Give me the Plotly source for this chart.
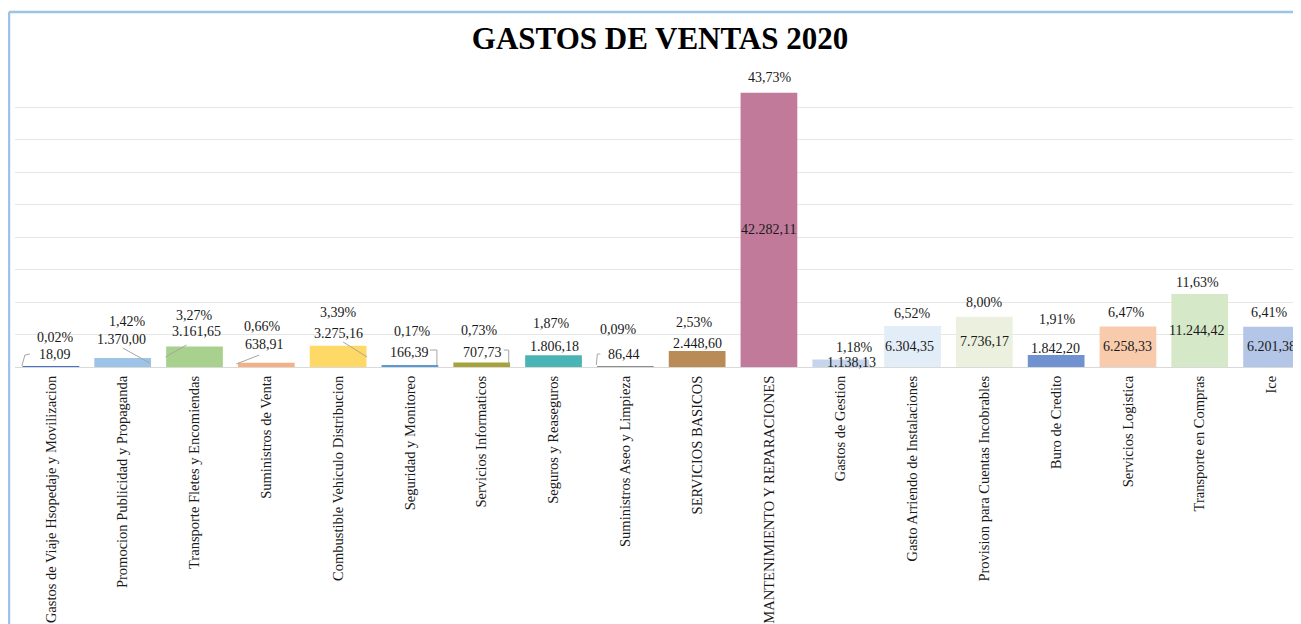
import plotly.graph_objects as go

# ---------------- data ----------------
categories = [
    "Gastos de Viaje Hsopedaje y Movilizacion",
    "Promocion Publicidad y Propaganda",
    "Transporte Fletes y Encomiendas",
    "Suministros de Venta",
    "Combustible Vehiculo Distribucion",
    "Seguridad y Monitoreo",
    "Servicios Informaticos",
    "Seguros y Reaseguros",
    "Suministros Aseo y Limpieza",
    "SERVICIOS BASICOS",
    "MANTENIMIENTO Y REPARACIONES",
    "Gastos de Gestion",
    "Gasto Arriendo de Instalaciones",
    "Provision para Cuentas Incobrables",
    "Buro de Credito",
    "Servicios Logistica",
    "Transporte en Compras",
    "Ice",
]
values = [18.09, 1370.00, 3161.65, 638.91, 3275.16, 166.39, 707.73, 1806.18, 86.44,
          2448.60, 42282.11, 1138.13, 6304.35, 7736.17, 1842.20, 6258.33, 11244.42, 6201.38]
percent_labels = ["0,02%", "1,42%", "3,27%", "0,66%", "3,39%", "0,17%", "0,73%", "1,87%", "0,09%",
                  "2,53%", "43,73%", "1,18%", "6,52%", "8,00%", "1,91%", "6,47%", "11,63%", "6,41%"]
title_text = "GASTOS DE VENTAS 2020"

# ---------------- style ----------------
colors = ["#4472C4", "#9DC3E6", "#A9D18E", "#F4B183", "#FFD966", "#5B9BD5", "#A5A33A", "#4BB4B4",
          "#8C8C8C", "#B98B57", "#C27A9A", "#C5D5EE", "#E3EDF8", "#EBF1DE", "#7092D0", "#F8CBAD",
          "#D5E8C8", "#B4C6E7"]
inside = [False] * 10 + [True, False, True, True, False, True, True, True]
val_dy = [12, 19, 14.5, 18, 12, 13, 9.5, 9, 12, 8, 0, -3, 0, 0, 7, 0, 0, 0]
val_dx = [4, -1, 2, -2, 0, 0, 1, 1, -1, 0, 0, 11, -3, 0, -1, 0, -3, 0]
pct_dy = [29, 37, 30.5, 36, 33, 34, 32, 32, 37, 29, 15.6, 12.6, 13, 14, 36, 13.4, 12, 13.8]
pct_dx = [5, 5, 0, -4, 0, 3, -2, -2, -7, -3, 1, 14, 0, 0, 1, -1, -2, -2]
leaders = {
    0: [(-29, 1), (-26, 12), (-21, 13)],
    1: [(0, 19), (27, 4)],
    2: [(-29, 10), (-8, 22)],
    3: [(-30, 3), (-7, 12)],
    4: [(5, 25), (29, 10)],
    5: [(20, 17), (27, 17), (27, 2)],
    6: [(22, 17), (27, 17), (27, 2)],
    8: [(-29, 2), (-28, 13), (-25, 13)],
}

# the page adds an 8px body margin, so the figure is laid out 8px smaller
W, H = 1293, 616
ML, MR, MT, MB = 7, 0, 67, 257
PLOT_W = W - ML - MR
PLOT_H = H - MT - MB
FONT = "Liberation Serif"
TXT = "#1a1a1a"


def fmt_es(v):
    s = f"{v:,.2f}"
    return s.replace(",", "X").replace(".", ",").replace("X", ".")


def px_to_paper(px, py):
    return (px - ML) / PLOT_W, (H - MB - py) / PLOT_H


fig = go.Figure(go.Bar(
    x=list(range(len(categories))),
    y=values,
    marker=dict(color=colors, line=dict(width=0)),
    width=0.79,
    hoverinfo="skip",
))

annotations = []
for i, (v, p) in enumerate(zip(values, percent_labels)):
    if inside[i]:
        annotations.append(dict(x=i, y=v / 2, text=fmt_es(v), showarrow=False,
                                xshift=val_dx[i], yanchor="middle",
                                font=dict(family=FONT, size=14, color=TXT)))
    else:
        annotations.append(dict(x=i, y=v, text=fmt_es(v), showarrow=False,
                                xshift=val_dx[i], yshift=val_dy[i], yanchor="middle",
                                font=dict(family=FONT, size=14, color=TXT)))
    annotations.append(dict(x=i, y=v, text=p, showarrow=False,
                            xshift=pct_dx[i], yshift=pct_dy[i], yanchor="middle",
                            font=dict(family=FONT, size=14, color=TXT)))

shapes = []
for i, pts in leaders.items():
    for (x0, y0), (x1, y1) in zip(pts[:-1], pts[1:]):
        shapes.append(dict(type="line", xref="x", yref="y",
                           xsizemode="pixel", ysizemode="pixel",
                           xanchor=i, yanchor=0,
                           x0=x0, y0=y0, x1=x1, y1=y1,
                           line=dict(color="#A6A6A6", width=1)))

# outer frame (top and left edge visible)
fx0, fy0 = px_to_paper(1, 4)
fx1, _ = px_to_paper(W + 5, 4)
_, fyb = px_to_paper(1, H + 5)
shapes.append(dict(type="line", xref="paper", yref="paper", x0=fx0, y0=fy0, x1=fx1, y1=fy0,
                   line=dict(color="#9DC3E6", width=2.5), layer="above"))
shapes.append(dict(type="line", xref="paper", yref="paper", x0=fx0, y0=fy0, x1=fx0, y1=fyb,
                   line=dict(color="#9DC3E6", width=2.5), layer="above"))

fig.update_layout(
    width=W, height=H,
    margin=dict(l=ML, r=MR, t=MT, b=MB, pad=0, autoexpand=False),
    paper_bgcolor="white", plot_bgcolor="white",
    showlegend=False,
    title=dict(text=f"<b>{title_text}</b>", x=652 / W, xref="container", xanchor="center",
               y=1 - 30 / H, yref="container", yanchor="middle",
               font=dict(family=FONT, size=31, color="#000000")),
    xaxis=dict(
        tickmode="array", tickvals=list(range(len(categories))), ticktext=categories,
        tickangle=-90, tickfont=dict(family=FONT, size=14.5, color=TXT),
        range=[-0.5, 17.41], showgrid=False, showline=True, linecolor="#D9D9D9",
        linewidth=1, ticks="", zeroline=False, ticklabelstandoff=2, automargin=False,
    ),
    yaxis=dict(
        range=[0, 45000], dtick=5000, showticklabels=False, showgrid=True,
        gridcolor="#E6E6E6", gridwidth=1, zeroline=False, showline=False, ticks="",
        automargin=False,
    ),
    annotations=annotations,
    shapes=shapes,
)

fig.write_html("out.html")
